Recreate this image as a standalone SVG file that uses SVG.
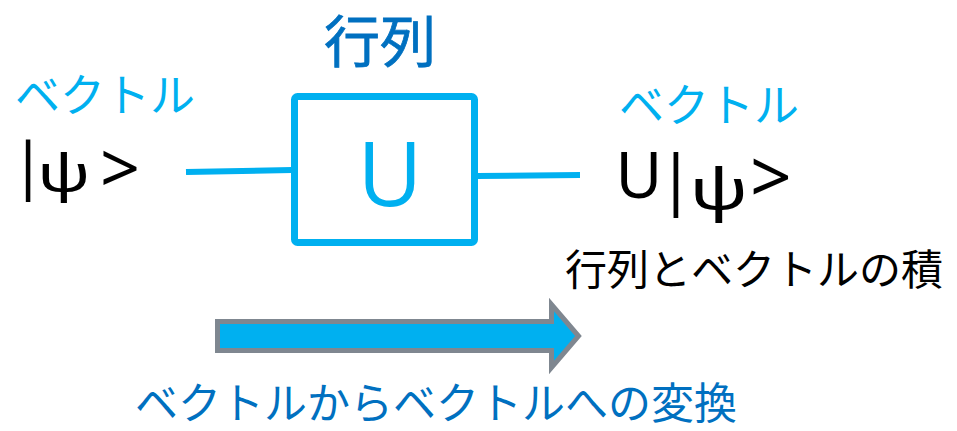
<svg xmlns="http://www.w3.org/2000/svg" width="957" height="431" viewBox="0 0 957 431">
<style>
text{font-family:"Noto Sans CJK JP","Noto Sans",sans-serif}
.lb{fill:#00B0F0;font-size:45px}
.db{fill:#0070C0}
.k{fill:#000}
.m{font-family:"Noto Sans",sans-serif;fill:#000;text-anchor:middle}
.ln{stroke:#00B0F0;stroke-width:6;fill:none}
</style>
<rect width="957" height="431" fill="#fff"/>
<g id="connectors">
<line class="ln" x1="186" y1="172" x2="292" y2="170"/>
<line class="ln" x1="477" y1="176" x2="580" y2="175"/>
</g>
<g id="matrix">
<text class="db" x="380" y="62" font-size="56" text-anchor="middle" stroke="#0070C0" stroke-width="0.8">行列</text>
<rect x="294.5" y="96.5" width="180" height="146" rx="3" fill="#fff" stroke="#00B0F0" stroke-width="7"/>
<text x="390" y="206" font-size="89" fill="#00B0F0" text-anchor="middle" style="font-family:'Open Sans',sans-serif">U</text>
</g>
<g id="input">
<text class="lb" x="15" y="112">ベクトル</text>
<text class="m" x="28" y="187" font-size="62">|</text>
<text class="m" font-size="60" transform="matrix(1.2 0 0 0.85 64 191)">ψ</text>
<text class="m" x="120" y="193" font-size="70">&gt;</text>
</g>
<g id="output">
<text class="lb" x="619" y="122">ベクトル</text>
<text class="m" x="639" y="198" font-size="64">U</text>
<text class="m" x="676" y="202" font-size="65">|</text>
<text class="m" font-size="66" transform="matrix(1.2 0 0 0.85 719 209)">ψ</text>
<text class="m" x="771" y="203" font-size="73">&gt;</text>
<text class="k" x="565" y="285" font-size="42">行列とベクトルの積</text>
</g>
<g id="flow">
<path d="M217.5,321.5 H551.5 V304.5 L578.5,336 L551.5,367.5 V350.5 H217.5 Z" fill="#00B0F0" stroke="#7F8790" stroke-width="5"/>
<text class="db" x="135" y="419" font-size="43">ベクトルからベクトルへの変換</text>
</g>
</svg>
